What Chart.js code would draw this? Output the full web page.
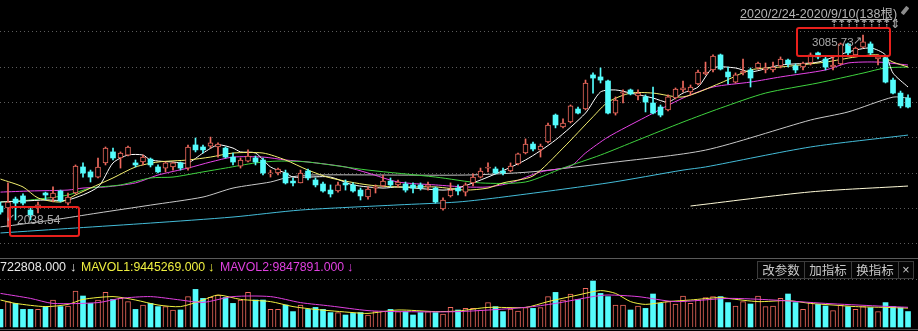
<!DOCTYPE html>
<html><head><meta charset="utf-8">
<script src="https://cdn.jsdelivr.net/npm/chart.js@4"></script>
<style>
html,body{margin:0;padding:0;background:#000;width:918px;height:331px;overflow:hidden;font-family:"Liberation Sans",Arial,sans-serif;}
#wrap{position:relative;width:918px;height:331px;background:#000;}
canvas{position:absolute;left:0;}
#main{top:0;}
#vol{top:258px;}
.t{position:absolute;white-space:nowrap;z-index:5;}
.box{position:absolute;border:2px solid #e8201c;border-radius:3px;z-index:6;}
.btn{position:absolute;top:261px;height:16px;border:1px solid #3c3c3c;color:#c8c8c8;font-size:12.5px;line-height:16px;text-align:center;font-family:"Noto Sans CJK SC",sans-serif;z-index:5;background:#050505;}
.ar{position:absolute;top:18px;font-size:12px;line-height:12px;color:#a0a0a0;z-index:5;font-family:"DejaVu Sans",sans-serif;font-weight:bold;}
</style></head>
<body><div id="wrap">
<canvas id="main" width="918" height="258"></canvas>
<canvas id="vol" width="918" height="73"></canvas>
<div style="position:absolute;left:0;top:258px;width:918px;height:1px;background:#5a5a5a;z-index:4"></div>
<div style="position:absolute;left:0;top:329px;width:918px;height:1px;background:#4a4a4a;z-index:4"></div>

<div class="t" id="rangeTxt" style="left:740px;top:3px;font-size:12.5px;color:#b4b4b4;text-decoration:underline;font-family:'Liberation Sans','Noto Sans CJK SC',sans-serif">2020/2/24-2020/9/10(138根)</div>
<div class="t" style="left:903px;top:6px;width:4px;height:9px;background:#8c8c8c;transform:rotate(40deg);border-radius:1px"></div>

<div class="ar" style="left:829px">⇡</div><div class="ar" style="left:836.5px">⇡</div><div class="ar" style="left:844px">⇡</div>
<div class="ar" style="left:851.5px">⇡</div><div class="ar" style="left:859px">⇡</div><div class="ar" style="left:866.5px">⇡</div>
<div class="ar" style="left:874px">⇡</div><div class="ar" style="left:881.5px">⇡</div><div class="ar" style="left:890px">⇕</div>

<div class="box" style="left:796px;top:27px;width:91px;height:26px"></div>
<div class="t" style="left:812px;top:36px;font-size:11.5px;color:#a8a8a8">3085.73</div>
<div class="t" style="left:853px;top:34px;font-size:11px;color:#a8a8a8">↗</div>

<div class="box" style="left:9px;top:206px;width:67px;height:27px"></div>
<div class="t" style="left:6px;top:211px;font-size:11px;color:#a8a8a8">↙</div>
<div class="t" style="left:17px;top:213px;font-size:12px;color:#a8a8a8">2038.54</div>

<div class="t" style="left:0px;top:260px;font-size:12.5px;color:#e8e8e8">722808.000</div>
<div class="t" style="left:70px;top:259px;font-size:13px;color:#e8e8e8;font-weight:bold">↓</div>
<div class="t" style="left:81px;top:260px;font-size:12.3px;color:#f0f040">MAVOL1:9445269.000</div>
<div class="t" style="left:208px;top:259px;font-size:13px;color:#f0f040;font-weight:bold">↓</div>
<div class="t" style="left:220px;top:260px;font-size:12.3px;color:#e040e0">MAVOL2:9847891.000</div>
<div class="t" style="left:347px;top:259px;font-size:13px;color:#e040e0;font-weight:bold">↓</div>

<div class="btn" style="left:757px;width:46px">改参数</div>
<div class="btn" style="left:804px;width:46px">加指标</div>
<div class="btn" style="left:851px;width:46px">换指标</div>
<div class="btn" style="left:898px;width:14px;font-family:'Liberation Sans',sans-serif">×</div>
</div>
<script>
// ---- data (daily candles, index 0..121) ----
const open = [2153,2142,2191,2208,2131,2142,2224,2197,2235,2169,
 2224,2366,2339,2311,2388,2448,2415,2431,2388,2393,
 2409,2366,2360,2366,2388,2360,2486,2475,2480,2475,
 2469,2420,2371,2398,2415,2404,2328,2333,2333,2289,
 2279,2344,2295,2273,2240,2235,2279,2268,2240,2202,
 2251,2262,2289,2268,2273,2268,2268,2257,2251,2137,
 2208,2251,2229,2279,2311,2360,2355,2344,2344,2382,
 2442,2491,2459,2502,2649,2584,2611,2682,2682,2868,
 2857,2835,2660,2769,2786,2753,2748,2715,2693,2677,
 2742,2786,2775,2819,2873,2895,2977,2884,2829,2879,
 2895,2906,2895,2895,2917,2949,2917,2911,2933,2988,
 2955,2911,2928,3037,2977,3020,3037,2955,2960,2840,
 2769,2742];
const high = [2175,2279,2202,2219,2148,2175,2229,2257,2240,2224,
 2377,2388,2349,2415,2475,2469,2448,2480,2404,2431,
 2415,2377,2393,2393,2393,2486,2524,2486,2529,2497,
 2475,2442,2415,2459,2426,2415,2349,2360,2349,2306,
 2349,2355,2306,2284,2268,2284,2295,2279,2251,2257,
 2268,2322,2306,2295,2284,2279,2279,2284,2257,2197,
 2279,2268,2279,2328,2360,2388,2366,2360,2388,2442,
 2519,2502,2491,2606,2655,2628,2704,2693,2840,2879,
 2906,2840,2748,2786,2791,2786,2759,2802,2704,2759,
 2797,2835,2813,2895,2938,2977,2982,2911,2879,2955,
 2906,2938,2933,2938,2966,2955,2928,2938,2988,2993,
 2966,2966,3042,3042,3020,3085.73,3048,2977,2966,2851,
 2780,2759];
const low = [2109,2038.54,2077,2159,2077,2115,2186,2175,2175,2159,
 2219,2311,2284,2306,2377,2404,2360,2426,2366,2377,
 2366,2333,2339,2349,2349,2349,2448,2442,2469,2420,
 2415,2377,2360,2393,2377,2322,2311,2322,2273,2262,
 2279,2295,2257,2229,2202,2229,2240,2229,2186,2191,
 2224,2257,2257,2257,2229,2224,2240,2240,2169,2131,
 2202,2213,2208,2262,2306,2339,2328,2322,2339,2377,
 2437,2453,2420,2497,2579,2579,2606,2655,2677,2769,
 2824,2655,2649,2715,2759,2731,2666,2655,2639,2671,
 2737,2775,2759,2813,2868,2884,2895,2819,2824,2868,
 2802,2900,2879,2884,2906,2911,2879,2895,2922,2955,
 2895,2895,2922,2977,2966,3015,2977,2922,2824,2764,
 2688,2688];
const close = [2120,2175,2169,2169,2104,2159,2213,2224,2180,2202,
 2371,2333,2311,2366,2469,2415,2442,2475,2377,2420,
 2377,2339,2388,2388,2360,2475,2459,2459,2497,2491,
 2420,2393,2404,2426,2393,2333,2333,2355,2279,2279,
 2333,2306,2268,2235,2219,2268,2268,2235,2208,2246,
 2257,2289,2268,2284,2240,2251,2251,2268,2175,2186,
 2240,2235,2268,2311,2344,2366,2333,2333,2371,2437,
 2491,2464,2480,2595,2595,2606,2699,2660,2824,2851,
 2840,2660,2731,2775,2764,2769,2720,2660,2649,2748,
 2791,2797,2802,2884,2884,2971,2900,2857,2868,2889,
 2851,2933,2906,2911,2955,2928,2895,2933,2977,2966,
 2911,2922,3037,2988,3015,3048,2988,2966,2829,2769,
 2699,2693];
// volume, millions of shares
const volume = [8.8,12.7,11.8,8.8,8.8,8.8,10.2,13.5,10.2,10.5,
 18.0,15.5,11.8,13.5,17.3,13.8,14.3,12.7,8.8,11.0,
 11.8,10.2,10.2,8.5,8.5,15.2,18.8,14.3,14.8,16.0,
 14.7,11.8,13.5,17.3,13.5,13.5,8.8,8.8,11.0,7.7,
 11.0,8.8,9.8,8.8,7.2,7.2,6.0,6.8,7.2,6.0,
 7.7,8.0,8.8,7.7,7.7,6.0,7.2,7.7,7.2,6.5,
 9.8,8.5,9.3,9.3,8.5,12.2,10.2,7.7,9.0,8.0,
 9.7,9.3,9.7,15.2,17.3,13.5,16.5,13.8,19.3,23.0,
 16.8,15.2,11.0,11.0,8.5,10.5,9.3,16.5,11.8,12.7,
 11.5,15.5,11.8,13.5,14.7,15.2,15.2,12.2,10.5,12.7,
 11.5,15.5,10.2,10.5,14.3,16.5,12.2,8.8,12.2,11.3,
 10.5,8.2,11.0,10.2,8.8,10.2,9.7,7.7,12.2,10.2,
 9.7,7.722808];
// moving-average lines: [candle index, value]
const ma5 = [[0,2175],[3,2180],[6,2186],[9,2186],[13,2257],[15,2388],[17,2431],[19,2431],[20,2404],[23,2393],[25,2388],[27,2442],[29,2486],[31,2469],[32,2448],[34,2442],[36,2366],[38,2333],[39,2311],[41,2311],[44,2311],[47,2268],[51,2251],[53,2257],[59,2240],[61,2251],[65,2311],[70,2404],[74,2513],[78,2660],[80,2775],[82,2786],[84,2769],[87,2742],[89,2720],[91,2769],[93,2802],[95,2906],[98,2906],[100,2884],[104,2922],[109,2938],[113,2993],[116,3015],[118,2977],[119,2878],[121,2802]];
const ma10 = [[0,2300],[3,2257],[5,2197],[8,2175],[10,2213],[12,2251],[15,2306],[18,2366],[21,2393],[25,2404],[28,2420],[31,2442],[35,2442],[38,2404],[41,2349],[44,2306],[49,2268],[53,2257],[58,2257],[62,2240],[65,2251],[67,2279],[71,2317],[75,2469],[79,2640],[81,2720],[84,2769],[87,2769],[91,2748],[96,2824],[100,2895],[104,2911],[110,2938],[114,2966],[117,2977],[119,2938],[121,2911]];
const ma20 = [[0,2229],[4,2235],[9,2240],[11,2251],[14,2257],[18,2279],[21,2322],[25,2360],[28,2393],[31,2420],[35,2420],[38,2404],[41,2393],[46,2366],[49,2333],[53,2284],[58,2268],[62,2257],[65,2257],[68,2279],[72,2339],[76,2370],[78,2442],[81,2529],[86,2638],[91,2742],[95,2802],[100,2829],[104,2857],[110,2895],[113,2933],[117,2938],[121,2922]];
const ma60 = [[0,2175],[4,2186],[9,2213],[12,2251],[16,2268],[20,2306],[23,2311],[27,2339],[30,2360],[34,2388],[37,2398],[41,2393],[49,2349],[58,2311],[64,2279],[70,2284],[75,2360],[80,2431],[85,2513],[91,2611],[96,2687],[102,2769],[109,2824],[115,2878],[118,2906],[121,2911]];
const ma120 = [[0,2039],[7,2077],[13,2115],[20,2158],[27,2202],[31,2251],[36,2284],[38,2306],[41,2322],[62,2322],[71,2340],[81,2388],[94,2458],[108,2622],[113,2666],[119,2747],[121,2742]];
const ma250 = [[0,2006],[10,2033],[20,2060],[31,2093],[40,2131],[53,2159],[61,2175],[67,2202],[81,2279],[91,2349],[94,2366],[108,2475],[121,2540]];
const maLong = [[92,2153],[108,2230],[121,2262]];
const mavol1 = [[0,13.5],[2,11.8],[6,10.2],[9,11.3],[11,13.8],[15,15.2],[18,13.5],[21,11.0],[24,10.2],[27,13.5],[29,16.0],[32,13.8],[36,12.7],[39,10.2],[42,8.8],[47,7.2],[49,6.8],[53,8.5],[58,7.7],[61,8.0],[65,9.8],[70,9.8],[73,12.7],[77,16.0],[80,18.2],[82,16.8],[84,12.7],[86,11.3],[89,12.7],[92,13.5],[96,14.8],[97,14.3],[101,12.7],[105,13.2],[108,11.8],[111,11.0],[114,10.2],[118,9.8],[121,9.445269]];
const mavol2 = [[0,16.8],[4,14.3],[7,11.8],[13,12.2],[16,14.3],[20,15.2],[24,13.5],[27,12.3],[31,15.2],[36,15.2],[40,12.2],[44,10.5],[49,8.2],[53,7.7],[61,7.7],[70,9.8],[74,11.8],[79,15.2],[81,16.0],[85,15.2],[90,12.7],[97,14.3],[103,13.5],[110,11.8],[117,10.5],[121,9.847891]];
const priceGrid = [3102.1, 2909.5, 2717.0, 2524.5, 2332.0, 2139.4, 1946.9];
const volGrid = [24];

// ---- styles ----
const RED = '#f06a5e', CYAN = '#54fcfc';
const idx = open.map((_, i) => i);
const up = idx.map(i => close[i] >= open[i]);
const pts = arr => arr.map(p => ({x: p[0], y: p[1]}));
const lineDS = (arr, color, order) => ({type: 'line', data: pts(arr), borderColor: color, borderWidth: 1, pointRadius: 0, tension: 0.25, order: order, fill: false});
const X = {type: 'linear', min: -0.0667, max: 122.33, display: false, offset: false};
const common = {responsive: false, animation: false, devicePixelRatio: 1, events: [], layout: {padding: 0},
  plugins: {legend: {display: false}, tooltip: {enabled: false}}};
const gridY = (mn, mx, ticks) => ({type: 'linear', min: mn, max: mx, display: true,
  afterBuildTicks: s => { s.ticks = ticks.map(v => ({value: v})); },
  ticks: {display: false}, grid: {color: '#5c5c5c', drawTicks: false, lineWidth: 1},
  border: {display: false, dash: [1, 3]}});

new Chart(document.getElementById('main'), {
  type: 'bar',
  data: {datasets: [
    lineDS(maLong, '#fffbd8', 5), lineDS(ma250, '#44bcd8', 5), lineDS(ma120, '#c8c8c8', 5),
    lineDS(ma60, '#3fd23f', 4), lineDS(ma20, '#e844e8', 4), lineDS(ma10, '#f4f070', 3), lineDS(ma5, '#ffffff', 3),
    {type: 'bar', data: idx.map(i => ({x: i, y: [low[i], high[i]]})), grouped: false, barThickness: 1,
     backgroundColor: idx.map(i => up[i] ? RED : CYAN), borderWidth: 0, order: 2},
    {type: 'bar', data: idx.map(i => ({x: i, y: [open[i], close[i]]})), grouped: false, barThickness: 5, minBarLength: 1,
     backgroundColor: idx.map(i => up[i] ? '#000' : CYAN), borderColor: idx.map(i => up[i] ? RED : CYAN),
     borderWidth: idx.map(i => up[i] ? 1 : 0), borderSkipped: false, order: 1}
  ]},
  options: Object.assign({}, common, {scales: {x: X, y: gridY(1869.5, 3276.6, priceGrid)}})
});

new Chart(document.getElementById('vol'), {
  type: 'bar',
  data: {datasets: [
    lineDS(mavol2, '#e040e0', 0), lineDS(mavol1, '#f0f040', 0),
    {type: 'bar', data: idx.map(i => ({x: i, y: volume[i]})), grouped: false, barThickness: 5,
     backgroundColor: idx.map(i => up[i] ? '#000' : CYAN), borderColor: idx.map(i => up[i] ? RED : CYAN),
     borderWidth: idx.map(i => up[i] ? 1 : 0), borderSkipped: 'start', order: 2}
  ]},
  options: Object.assign({}, common, {scales: {x: X, y: gridY(-2, 34.5, volGrid)}})
});
</script>
</body></html>
